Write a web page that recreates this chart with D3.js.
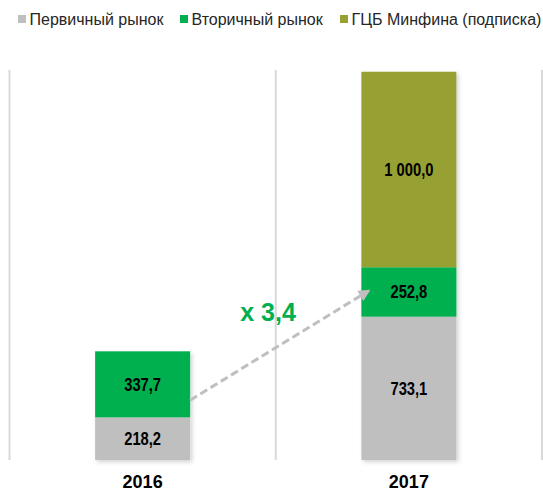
<!DOCTYPE html>
<meta charset="utf-8">
<style>
body { margin: 0; background: #fff; }
.grid line { stroke: #d9d9d9; stroke-width: 2; }
.legend text { font: 16px "Liberation Sans", Arial, sans-serif; fill: #262626; }
.label { font: bold 18px "Liberation Sans", Arial, sans-serif; fill: #000; }
.year { font: bold 18px "Liberation Sans", Arial, sans-serif; fill: #000; }
.growth { font: bold 25px "Liberation Sans", Arial, sans-serif; fill: #00b050; }
</style>
<div id="chart"></div>
<script src="https://cdn.jsdelivr.net/npm/d3@7"></script>
<script>

var years = ["2016", "2017"];
var series = ["Первичный рынок", "Вторичный рынок", "ГЦБ Минфина (подписка)"];
var primary = [218.2, 733.1];
var secondary = [337.7, 252.8];
var minfin = [0, 1000.0];
var growthLabel = "x 3,4";
var colors = ["#bfbfbf", "#00b050", "#97a031"];

var data = years.map(function(y, i) {
  var d = {year: y};
  d[series[0]] = primary[i];
  d[series[1]] = secondary[i];
  d[series[2]] = minfin[i];
  return d;
});

var width = 543, height = 491;
var svg = d3.select("#chart").append("svg")
    .attr("width", width)
    .attr("height", height);

var defs = svg.append("defs");
var shadow = defs.append("filter").attr("id", "shadow")
    .attr("x", "-10%").attr("y", "-10%").attr("width", "130%").attr("height", "130%");
shadow.append("feDropShadow")
    .attr("dx", 2).attr("dy", 2).attr("stdDeviation", 2)
    .attr("flood-color", "#000").attr("flood-opacity", 0.18);

defs.append("marker")
    .attr("id", "head")
    .attr("viewBox", "0 0 10 10")
    .attr("refX", 8).attr("refY", 5)
    .attr("markerWidth", 4).attr("markerHeight", 4)
    .attr("orient", "auto")
  .append("path")
    .attr("d", "M0,0L10,5L0,10z")
    .attr("fill", "#bfbfbf");

var x = d3.scaleBand()
    .domain(years)
    .range([9.5, 542])
    .paddingInner(0)
    .paddingOuter(0);

var y = d3.scaleLinear()
    .domain([0, 2000])
    .range([460, 69]);

var barW = 95;

var ru = d3.formatLocale({decimal: ",", thousands: "\u00a0", grouping: [3], currency: ["", ""]});
var fmt = ru.format(",.1f");

// vertical separators
var bounds = years.map(function(d) { return x(d); }).concat([x.range()[1]]);
svg.append("g").attr("class", "grid")
  .selectAll("line")
  .data(bounds)
  .enter().append("line")
    .attr("x1", function(d) { return d; })
    .attr("x2", function(d) { return d; })
    .attr("y1", y(1995))
    .attr("y2", y(0));

var stacked = d3.stack().keys(series)(data);

var layer = svg.append("g").attr("filter", "url(#shadow)")
  .selectAll(".serie")
  .data(stacked)
  .enter().append("g")
    .attr("class", "serie")
    .attr("fill", function(d, i) { return colors[i]; });

layer.selectAll("rect")
  .data(function(d) { return d.filter(function(p) { return p[1] - p[0] > 0; }); })
  .enter().append("rect")
    .attr("x", function(d) { return x(d.data.year) + x.bandwidth() / 2 - barW / 2; })
    .attr("y", function(d) { return y(d[1]); })
    .attr("width", barW)
    .attr("height", function(d) { return y(d[0]) - y(d[1]); });

// value labels (narrow bold look)
stacked.forEach(function(s) {
  svg.append("g").selectAll("text")
    .data(s.filter(function(p) { return p[1] - p[0] > 0; }))
    .enter().append("text")
      .attr("class", "label")
      .attr("transform", function(d) {
        return "translate(" + (x(d.data.year) + x.bandwidth() / 2) + "," + ((y(d[0]) + y(d[1])) / 2) + ") scale(0.82,1)";
      })
      .attr("dy", "0.36em")
      .attr("text-anchor", "middle")
      .text(function(d) { return fmt(d[1] - d[0]); });
});

// year labels
svg.append("g").selectAll("text")
  .data(years)
  .enter().append("text")
    .attr("class", "year")
    .attr("x", function(d) { return x(d) + x.bandwidth() / 2; })
    .attr("y", 488)
    .attr("text-anchor", "middle")
    .text(function(d) { return d; });

// growth arrow
var s1 = stacked[1][1];
var ax1 = x(years[0]) + x.bandwidth() / 2 + barW / 2,
    ay1 = y(306),
    ax2 = x(years[1]) + x.bandwidth() / 2 - barW / 2 + 7,
    ay2 = (y(s1[0]) + y(s1[1])) / 2 - 1;
svg.append("line")
    .attr("x1", ax1).attr("y1", ay1)
    .attr("x2", ax2).attr("y2", ay2)
    .attr("stroke", "#bfbfbf")
    .attr("stroke-width", 3)
    .attr("stroke-dasharray", "8,4")
    .attr("marker-end", "url(#head)");

svg.append("text")
    .attr("class", "growth")
    .attr("x", 268)
    .attr("y", 321)
    .attr("text-anchor", "middle")
    .text(growthLabel);

// legend
var legendX = [18, 180, 340];
var legend = svg.append("g").attr("class", "legend")
  .selectAll("g")
  .data(series)
  .enter().append("g")
    .attr("transform", function(d, i) { return "translate(" + legendX[i] + ",0)"; });

legend.append("rect")
    .attr("y", 15)
    .attr("width", 8)
    .attr("height", 8)
    .attr("fill", function(d, i) { return colors[i]; });

legend.append("text")
    .attr("x", 11.5)
    .attr("y", 25)
    .text(function(d) { return d; });

</script>
